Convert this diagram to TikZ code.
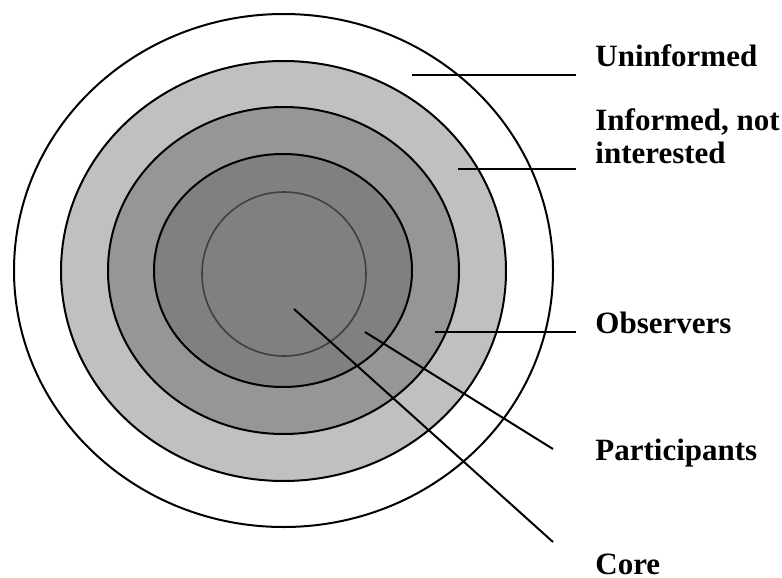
\documentclass[tikz,border=0pt]{standalone}
\usepackage{fontspec}
\setmainfont{Liberation Serif}
\usepackage{tikz}
\usetikzlibrary{positioning}

\definecolor{ringlight}{HTML}{C0C0C0}
\definecolor{ringmid}{HTML}{969696}
\definecolor{ringdark}{HTML}{808080}
\definecolor{coreline}{HTML}{404040}

\tikzset{
  ring/.style={draw=black,line width=1pt},
  pointer/.style={draw=black,line width=1pt},
  label/.style={anchor=base west,inner sep=0pt,align=left,
    font=\fontsize{15.5}{16.5}\selectfont\bfseries}
}

\begin{document}
\begin{tikzpicture}[x=0.5pt,y=-0.5pt]
\useasboundingbox (0,0) rectangle (782,578);
\draw[ring,fill=white] (283.5,270.5) ellipse [x radius=269.5,y radius=256.5];
\draw[ring,fill=ringlight] (283.5,271) ellipse [x radius=222.5,y radius=210];
\draw[ring,fill=ringmid] (283.5,270.5) ellipse [x radius=175.5,y radius=163.5];
\draw[ring,fill=ringdark] (283,270.5) ellipse [x radius=129,y radius=116.5];
\draw[draw=coreline,line width=0.8pt,fill=ringdark] (284,274) circle [radius=82];
%\draw (284,274) node {centre};
\node[label] (uninformed) at (595,66) {Uninformed};
\node[label] (informed) at (595,163) {Informed, not\\interested};
\node[label] (observers) at (595,333) {Observers};
\node[label] (participants) at (595,460) {Participants};
\node[label] (core) at (595,574) {Core};
\coordinate (u1) at (412,75);  \coordinate (u2) at (576,75);
\coordinate (i1) at (458,169); \coordinate (i2) at (576,169);
\coordinate (o1) at (435,332); \coordinate (o2) at (576,332);
\coordinate (p1) at (365,332); \coordinate (p2) at (553,449);
\coordinate (c1) at (294,309); \coordinate (c2) at (553,542);
\draw[pointer] (u1) -- (u2);
\draw[pointer] (i1) -- (i2);
\draw[pointer] (o1) -- (o2);
\draw[pointer] (p1) -- (p2);
\draw[pointer] (c1) -- (c2);
\end{tikzpicture}
\end{document}
